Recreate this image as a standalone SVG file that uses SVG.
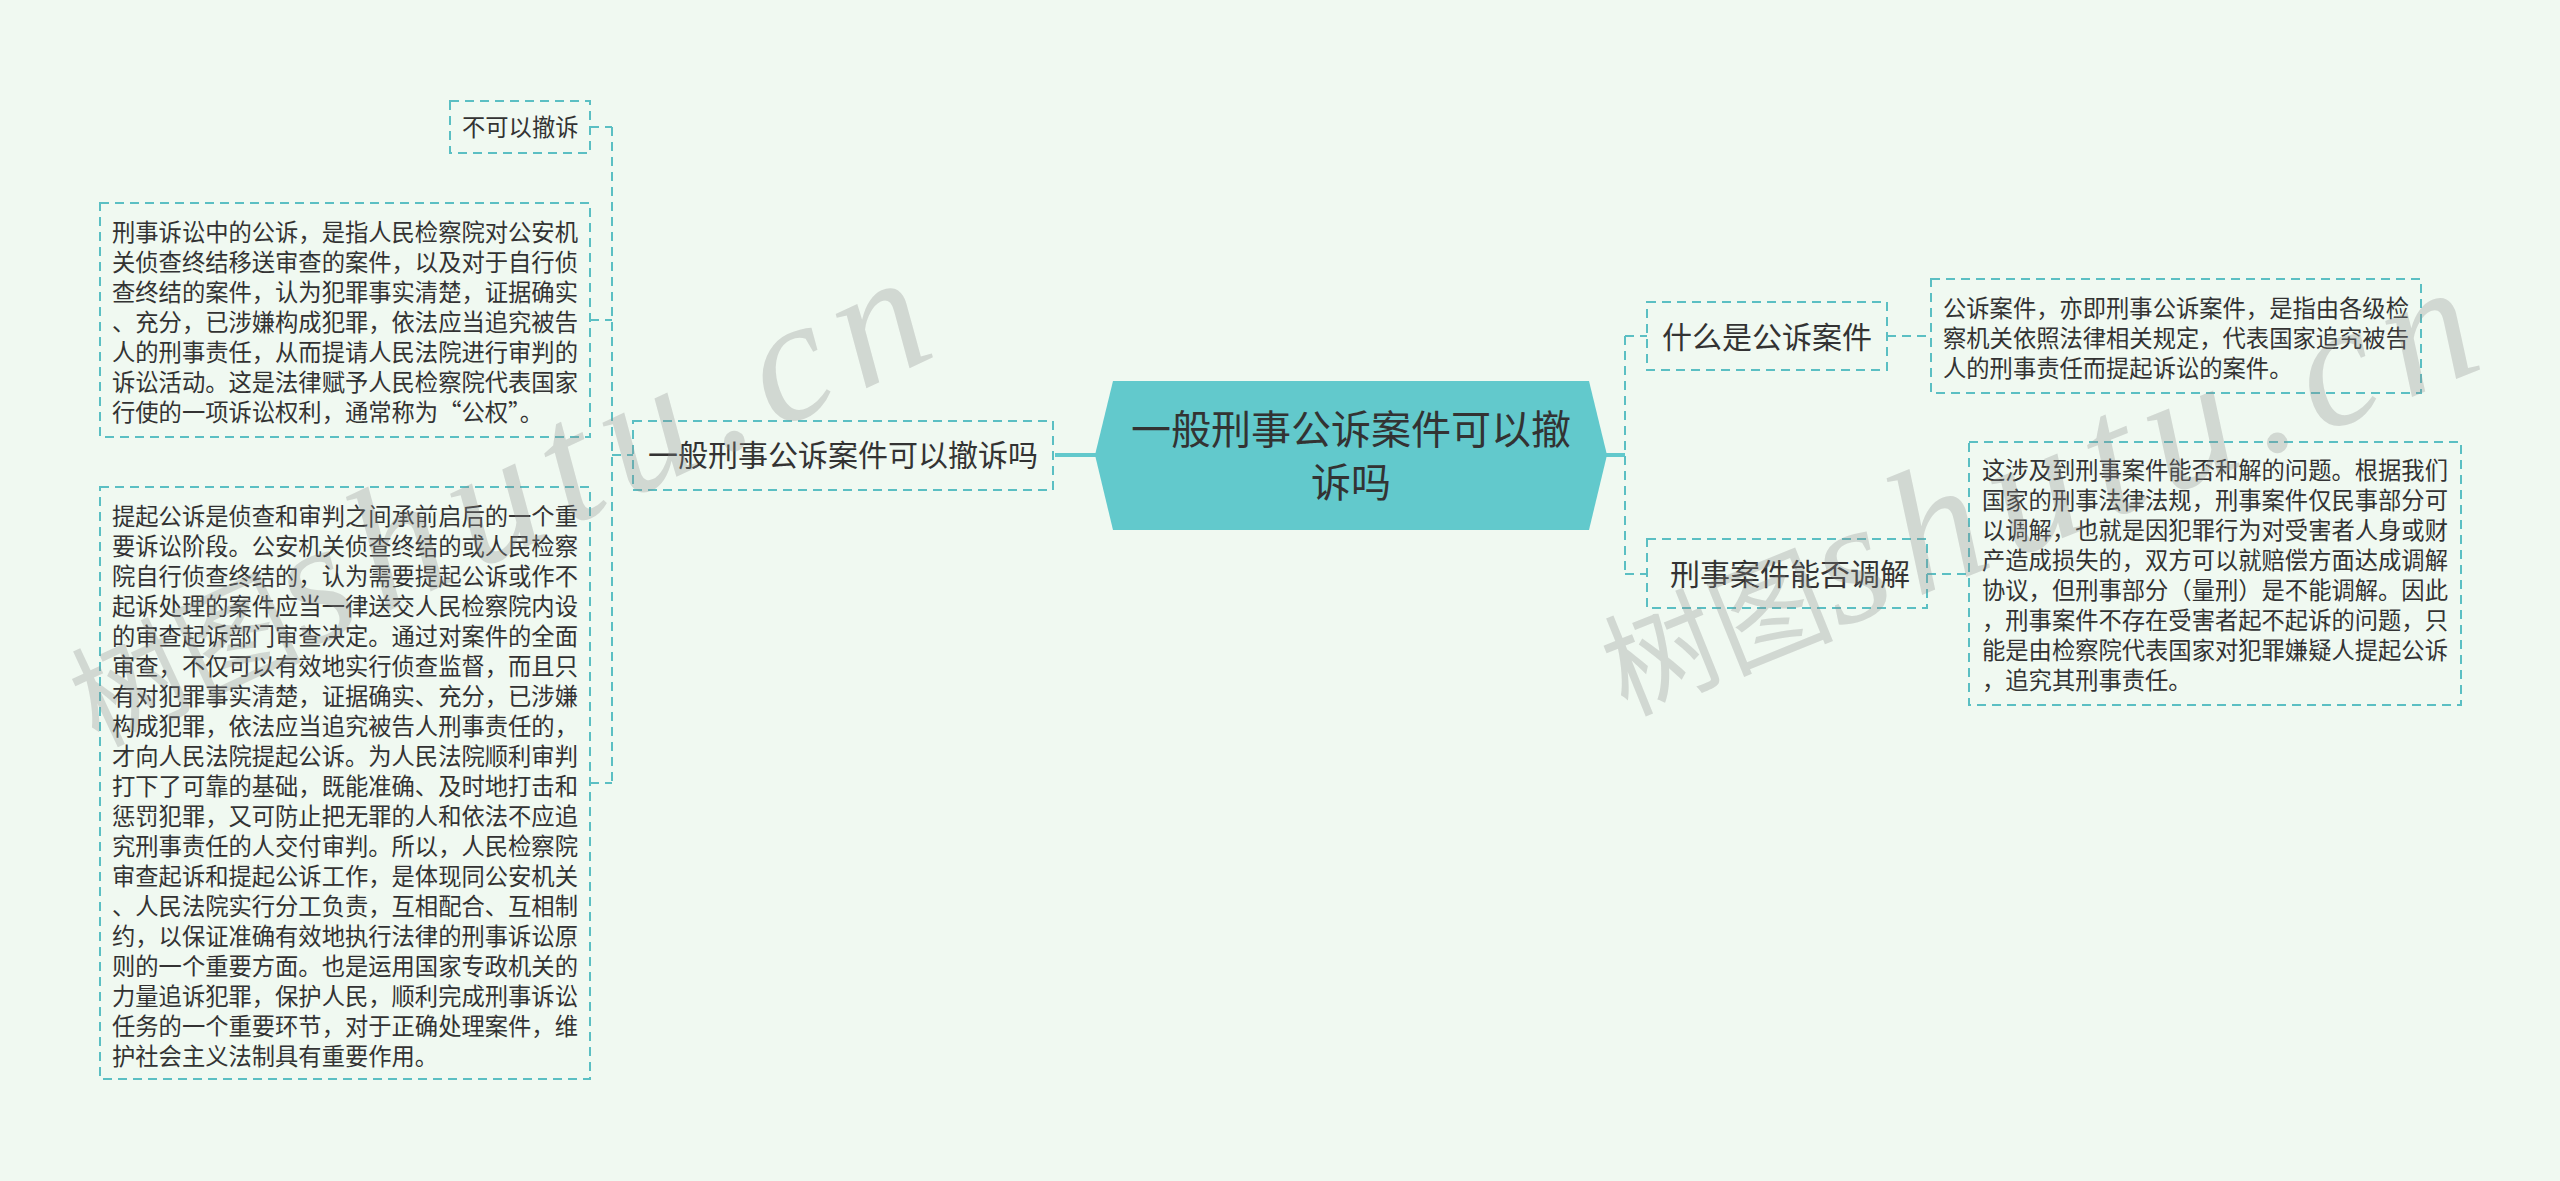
<svg xmlns="http://www.w3.org/2000/svg" width="2560" height="1181" viewBox="0 0 2560 1181">
<style>
.bg{fill:#F0F9F1}
.box{fill:none;stroke:#5BBFC3;stroke-width:2;stroke-dasharray:9 6}
.dash{fill:none;stroke:#5BBFC3;stroke-width:2;stroke-dasharray:9 6}
.solid{fill:none;stroke:#62C9CC;stroke-width:4}
.center{fill:#62C9CC}
.t{font-family:"Noto Sans CJK SC","Noto Sans",sans-serif;fill:#333333}
.leaf{font-size:23.3px}
.branch{font-size:30px}
.root{font-size:40px}
.wm{font-family:"Liberation Serif","Noto Sans CJK SC",serif;fill:#8A8A8A;fill-opacity:0.3}
.wmc{font-family:"Noto Sans CJK SC",sans-serif;font-size:115px}
.wml{font-family:"Liberation Serif",serif;font-style:italic;font-size:175px;letter-spacing:16px}
</style>
<rect class="bg" x="0" y="0" width="2560" height="1181"/>
<g id="connectors">
<path class="solid" d="M1055 455H1097"/>
<path class="dash" d="M612 127V783M590 127H612M590 320H612M590 783H612M612 455H633"/>
<path class="solid" d="M1605 455H1625"/>
<path class="dash" d="M1625 336V574M1625 336H1647M1625 574H1647M1887 336H1931M1927 574H1969"/>
</g>
<g id="root">
<polygon class="center" points="1113,381 1589,381 1607,455 1589,530 1113,530 1095,455"/>
<text class="t root" text-anchor="middle"><tspan x="1351" y="443.5">一般刑事公诉案件可以撤</tspan><tspan x="1351" y="497">诉吗</tspan></text>
</g>
<g id="branch-left">
<rect class="box" x="633" y="421" width="420" height="69"/>
<text class="t branch" x="843" y="466.4" text-anchor="middle">一般刑事公诉案件可以撤诉吗</text>
</g>
<g id="leaf-no">
<rect class="box" x="450" y="101" width="140" height="52"/>
<text class="t leaf" x="462" y="136">不可以撤诉</text>
</g>
<g id="leaf-def">
<rect class="box" x="100" y="203" width="490" height="234"/>
<text class="t leaf"><tspan x="112" y="241">刑事诉讼中的公诉，是指人民检察院对公安机</tspan><tspan x="112" y="271">关侦查终结移送审查的案件，以及对于自行侦</tspan><tspan x="112" y="301">查终结的案件，认为犯罪事实清楚，证据确实</tspan><tspan x="112" y="331">、充分，已涉嫌构成犯罪，依法应当追究被告</tspan><tspan x="112" y="361">人的刑事责任，从而提请人民法院进行审判的</tspan><tspan x="112" y="391">诉讼活动。这是法律赋予人民检察院代表国家</tspan><tspan x="112" y="421">行使的一项诉讼权利，通常称为“公权”。</tspan></text>
</g>
<g id="leaf-stage">
<rect class="box" x="100" y="487" width="490" height="592"/>
<text class="t leaf"><tspan x="112" y="525">提起公诉是侦查和审判之间承前启后的一个重</tspan><tspan x="112" y="555">要诉讼阶段。公安机关侦查终结的或人民检察</tspan><tspan x="112" y="585">院自行侦查终结的，认为需要提起公诉或作不</tspan><tspan x="112" y="615">起诉处理的案件应当一律送交人民检察院内设</tspan><tspan x="112" y="645">的审查起诉部门审查决定。通过对案件的全面</tspan><tspan x="112" y="675">审查，不仅可以有效地实行侦查监督，而且只</tspan><tspan x="112" y="705">有对犯罪事实清楚，证据确实、充分，已涉嫌</tspan><tspan x="112" y="735">构成犯罪，依法应当追究被告人刑事责任的，</tspan><tspan x="112" y="765">才向人民法院提起公诉。为人民法院顺利审判</tspan><tspan x="112" y="795">打下了可靠的基础，既能准确、及时地打击和</tspan><tspan x="112" y="825">惩罚犯罪，又可防止把无罪的人和依法不应追</tspan><tspan x="112" y="855">究刑事责任的人交付审判。所以，人民检察院</tspan><tspan x="112" y="885">审查起诉和提起公诉工作，是体现同公安机关</tspan><tspan x="112" y="915">、人民法院实行分工负责，互相配合、互相制</tspan><tspan x="112" y="945">约，以保证准确有效地执行法律的刑事诉讼原</tspan><tspan x="112" y="975">则的一个重要方面。也是运用国家专政机关的</tspan><tspan x="112" y="1005">力量追诉犯罪，保护人民，顺利完成刑事诉讼</tspan><tspan x="112" y="1035">任务的一个重要环节，对于正确处理案件，维</tspan><tspan x="112" y="1065">护社会主义法制具有重要作用。</tspan></text>
</g>
<g id="branch-what">
<rect class="box" x="1647" y="302" width="240" height="68"/>
<text class="t branch" x="1767" y="348" text-anchor="middle">什么是公诉案件</text>
</g>
<g id="leaf-what">
<rect class="box" x="1931" y="279" width="490" height="114"/>
<text class="t leaf"><tspan x="1943" y="317">公诉案件，亦即刑事公诉案件，是指由各级检</tspan><tspan x="1943" y="347">察机关依照法律相关规定，代表国家追究被告</tspan><tspan x="1943" y="377">人的刑事责任而提起诉讼的案件。</tspan></text>
</g>
<g id="branch-mediate">
<rect class="box" x="1647" y="539" width="280" height="69"/>
<text class="t branch" x="1790" y="585.4" text-anchor="middle">刑事案件能否调解</text>
</g>
<g id="leaf-mediate">
<rect class="box" x="1969" y="442" width="492" height="263"/>
<text class="t leaf"><tspan x="1982" y="479">这涉及到刑事案件能否和解的问题。根据我们</tspan><tspan x="1982" y="509">国家的刑事法律法规，刑事案件仅民事部分可</tspan><tspan x="1982" y="539">以调解，也就是因犯罪行为对受害者人身或财</tspan><tspan x="1982" y="569">产造成损失的，双方可以就赔偿方面达成调解</tspan><tspan x="1982" y="599">协议，但刑事部分（量刑）是不能调解。因此</tspan><tspan x="1982" y="629">，刑事案件不存在受害者起不起诉的问题，只</tspan><tspan x="1982" y="659">能是由检察院代表国家对犯罪嫌疑人提起公诉</tspan><tspan x="1982" y="689">，追究其刑事责任。</tspan></text>
</g>
<g id="watermarks">
<text class="wm" transform="translate(1625 715) rotate(-22)"><tspan class="wmc">树图</tspan><tspan class="wml">shutu.cn</tspan></text>
<text class="wm" transform="translate(97 747) rotate(-25)"><tspan class="wmc">树图</tspan><tspan class="wml">shutu.cn</tspan></text>
</g>
</svg>
